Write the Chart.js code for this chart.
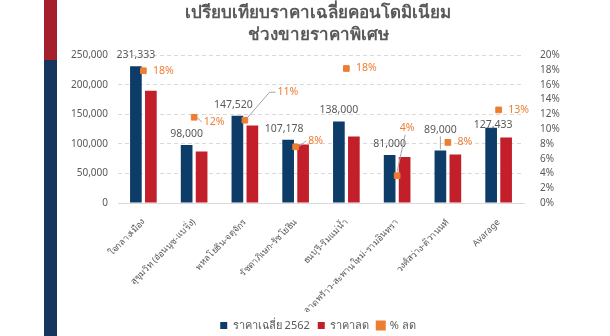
<!DOCTYPE html>
<html>
<head>
<meta charset="utf-8">
<script src="https://cdn.jsdelivr.net/npm/chart.js@4.4.1/dist/chart.umd.min.js"></script>
<style>
  body { margin: 0; background: #fff; width: 610px; height: 336px; overflow: hidden; position: relative; }
  .stripe-red { position: absolute; left: 44px; top: 0; width: 13px; height: 60px; background: #A51F2C; }
  .stripe-blue { position: absolute; left: 44px; top: 60px; width: 13px; height: 276px; background: #17365D; }
  #wrap { position: absolute; left: 70px; top: 0; width: 496px; height: 341px; }
</style>
</head>
<body>
<div class="stripe-red"></div>
<div class="stripe-blue"></div>
<div id="wrap"><canvas id="chart"></canvas></div>
<script>
const categories = [
  "ใจกลางเมือง",
  "สุขุมวิท (อ่อนนุช-แบริ่ง)",
  "พหลโยธิน-จตุจักร",
  "รัชดาภิเษก-รัชโยธิน",
  "ธนบุรี-ริมแม่น้ำ",
  "ลาดพร้าว-สะพานใหม่-รามอินทรา",
  "วงศ์สว่าง-ติวานนท์",
  "Avarage"
];
const avgPrice = [231333, 98000, 147520, 107178, 138000, 81000, 89000, 127433];
const salePrice = [190000, 87000, 131000, 99000, 112500, 78000, 82000, 111000];
const discountPct = [17.9, 11.6, 11.2, 7.6, 18.2, 3.7, 8.2, 12.6];
const leftTicks = [0, 50000, 100000, 150000, 200000, 250000];
const rightTicks = [0, 2, 4, 6, 8, 10, 12, 14, 16, 18, 20];

// label nudges (px) so labels sit where the original put them
const priceLabelShift = [[0, -11], [0, -11], [-4, -11], [-4, -11], [0, -11], [0, -11], [0, -20], [2, -3]];
const pctLabelShift = [[20, 0], [20, 5], [43, -28], [20, -6], [20, 0], [10, -48], [17, 0], [20, 0]];
const pctLeader = ["", "line", "elbow", "line", "", "below", "", ""];

const BLUE = "#0E3C68";
const RED = "#C21F2B";
const ORANGE = "#ED7D31";
const GREY = "#595959";
const FONT = "'Noto Sans', 'Liberation Sans', sans-serif";

const labelPlugin = {
  id: "valueLabels",
  afterDatasetsDraw(chart) {
    const ctx = chart.ctx;
    ctx.save();
    ctx.font = "10.5px " + FONT;
    ctx.textAlign = "center";
    ctx.textBaseline = "middle";

    // price labels above blue bars
    const bars = chart.getDatasetMeta(0).data;
    bars.forEach((bar, i) => {
      const [dx, dy] = priceLabelShift[i];
      const x = bar.x + dx, y = bar.y + dy;
      if (dy < -15) {
        ctx.strokeStyle = "#A6A6A6";
        ctx.lineWidth = 1;
        ctx.beginPath();
        ctx.moveTo(bar.x, y + 6);
        ctx.lineTo(bar.x, bar.y - 1);
        ctx.stroke();
      }
      ctx.fillStyle = GREY;
      ctx.fillText(avgPrice[i].toLocaleString("en-US"), x, y);
    });

    // percent labels next to markers
    const pts = chart.getDatasetMeta(2).data;
    ctx.textAlign = "left";
    pts.forEach((p, i) => {
      const [dx, dy] = pctLabelShift[i];
      const text = Math.round(discountPct[i]) + "%";
      const w = ctx.measureText(text).width;
      const left = p.x + dx - w / 2;
      const y = p.y + dy;
      ctx.strokeStyle = "#A6A6A6";
      ctx.lineWidth = 1;
      ctx.beginPath();
      if (pctLeader[i] === "line") {
        ctx.moveTo(p.x + 3, p.y);
        ctx.lineTo(left - 2, y);
      } else if (pctLeader[i] === "elbow") {
        ctx.moveTo(p.x + 3, p.y - 3);
        ctx.lineTo(left - 8, y);
        ctx.lineTo(left - 2, y);
      } else if (pctLeader[i] === "below") {
        ctx.moveTo(p.x, p.y - 4);
        ctx.lineTo(left + w / 2 - 2, y + 7);
      }
      ctx.stroke();
      ctx.fillStyle = ORANGE;
      ctx.fillText(text, left, y);
    });
    ctx.restore();
  }
};

const ctx = document.getElementById("chart").getContext("2d");
new Chart(ctx, {
  type: "bar",
  data: {
    labels: categories,
    datasets: [
      {
        label: "ราคาเฉลี่ย 2562",
        data: avgPrice,
        backgroundColor: BLUE,
        yAxisID: "y",
        categoryPercentage: 0.59,
        barPercentage: 0.78,
        order: 2
      },
      {
        label: "ราคาลด",
        data: salePrice,
        backgroundColor: RED,
        yAxisID: "y",
        categoryPercentage: 0.59,
        barPercentage: 0.78,
        order: 2
      },
      {
        type: "line",
        label: "% ลด",
        data: discountPct,
        yAxisID: "y1",
        showLine: false,
        pointStyle: "rect",
        pointRadius: 4,
        pointBackgroundColor: ORANGE,
        pointBorderColor: ORANGE,
        backgroundColor: ORANGE,
        borderColor: ORANGE,
        order: 1
      }
    ]
  },
  options: {
    responsive: true,
    maintainAspectRatio: false,
    animation: false,
    layout: { padding: { left: 0, right: 0, top: 0, bottom: 0 } },
    plugins: {
      title: {
        display: true,
        text: ["เปรียบเทียบราคาเฉลี่ยคอนโดมิเนียม", "ช่วงขายราคาพิเศษ"],
        color: GREY,
        font: { family: FONT, size: 17, weight: "bold", lineHeight: 1.3 },
        padding: { top: 2, bottom: 9 }
      },
      legend: {
        position: "bottom",
        labels: {
          boxWidth: 7,
          boxHeight: 7,
          color: GREY,
          padding: 8,
          font: { family: FONT, size: 11 },
          sort: (a, b) => a.datasetIndex - b.datasetIndex
        }
      },
      tooltip: { enabled: false }
    },
    scales: {
      x: {
        grid: { display: false },
        border: { color: "#D9D9D9" },
        afterFit: s => { s.height = 109; },
        ticks: {
          color: GREY,
          maxRotation: 45,
          minRotation: 45,
          autoSkip: false,
          padding: 6,
          font: { family: FONT, size: 9 }
        }
      },
      y: {
        position: "left",
        min: 0,
        max: 250000,
        afterFit: s => { s.width = 48; },
        afterBuildTicks: s => { s.ticks = leftTicks.map(v => ({ value: v })); },
        ticks: {
          color: GREY,
          autoSkip: false,
          padding: 10,
          font: { family: FONT, size: 10 },
          callback: v => v.toLocaleString("en-US")
        },
        grid: { color: "#D9D9D9", drawTicks: false },
        border: { display: false, dash: [4, 3] }
      },
      y1: {
        position: "right",
        min: 0,
        max: 20,
        afterFit: s => { s.width = 42; },
        afterBuildTicks: s => { s.ticks = rightTicks.map(v => ({ value: v })); },
        ticks: {
          color: GREY,
          autoSkip: false,
          padding: 8,
          font: { family: FONT, size: 10 },
          callback: v => v + "%"
        },
        grid: { display: false },
        border: { display: false }
      }
    }
  },
  plugins: [labelPlugin]
});
</script>
</body>
</html>
